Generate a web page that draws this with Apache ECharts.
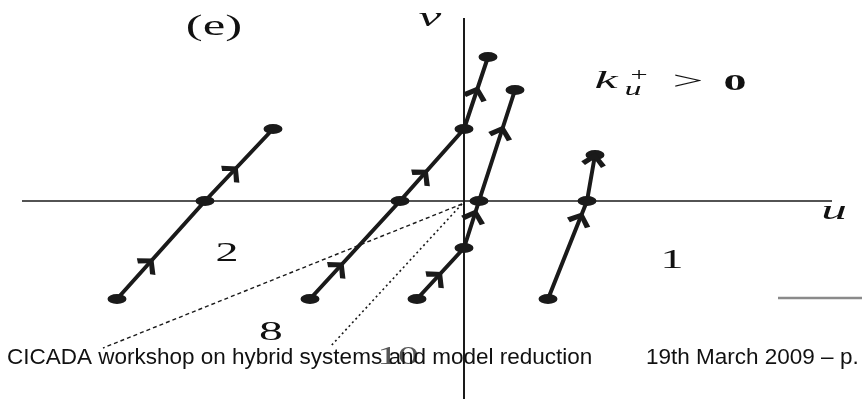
<!DOCTYPE html>
<html>
<head>
<meta charset="utf-8">
<script src="https://cdn.jsdelivr.net/npm/echarts@6/dist/echarts.min.js"></script>
<style>
html,body{margin:0;padding:0;background:#fff;}
#chart{width:862px;height:399px;}
</style>
</head>
<body>
<div id="chart"></div>
<script>
// trajectories (u, v), each point is a switching point
var traj1 = [[-34.7, -9.8], [-25.9, 0], [-19.1, 7.2]];
var traj2 = [[-15.4, -9.8], [-6.4, 0], [0, 7.2], [2.4, 14.4]];
var traj3 = [[-4.7, -9.8], [0, -4.7], [1.5, 0], [5.1, 11.1]];
var traj4 = [[8.4, -9.8], [12.3, 0], [13.1, 4.6]];
var trajs = [traj1, traj2, traj3, traj4];
// arrows : [trajectory, piece, fraction along piece]
var arrows = [[0, 0, 0.36], [0, 1, 0.41], [1, 0, 0.32], [1, 1, 0.36], [1, 2, 0.5],
	[2, 0, 0.43], [2, 1, 0.68], [2, 2, 0.62], [3, 0, 0.82], [3, 1, 0.9]];
// dotted rays from the origin
var ray8 = [[-0.2, -0.3], [-36.1, -14.7]];
var ray10 = [[-0.2, -0.3], [-13.4, -14.6]];
// u and v axes
var uAxis = [[-44.2, 0], [36.8, 0]];
var vAxis = [[0, 18.3], [0, -19.8]];
var slideRule = [[31.4, -9.7], [39.8, -9.7]];

var myChart = echarts.init(document.getElementById('chart'));
var ink = '#1a1a1a';

var arrowData = [];
for (var i = 0; i < arrows.length; i++) {
	var t = trajs[arrows[i][0]];
	var p = t[arrows[i][1]], q = t[arrows[i][1] + 1], f = arrows[i][2];
	var ang = Math.atan2(q[1] - p[1], q[0] - p[0]) * 180 / Math.PI;
	arrowData.push({value: [p[0] + (q[0] - p[0]) * f, p[1] + (q[1] - p[1]) * f], symbolRotate: ang - 90});
}

var series = [];
function plain(data, w, color, type) {
	series.push({type: 'line', data: data, showSymbol: false, silent: true, z: 1,
		lineStyle: {width: w, color: color, type: type || 'solid'}});
}
plain(uAxis, 1.5, ink);
plain(vAxis, 2, ink);
plain(ray8, 1.4, ink, [4, 3]);
plain(ray10, 1.6, ink, [2, 3]);
plain(slideRule, 2.5, '#8a8a8a');
for (var j = 0; j < trajs.length; j++) {
	series.push({type: 'line', data: trajs[j], symbol: 'circle', symbolSize: [19, 10], z: 3,
		itemStyle: {color: ink}, lineStyle: {width: 4, color: ink}});
}
series.push({type: 'scatter', data: arrowData, z: 4,
	symbol: 'path://M0,10 L10,0 L20,10 L16.5,13 L10,6 L3.5,13 Z', symbolSize: [25, 14],
	itemStyle: {color: ink, opacity: 1}});

// figure text is stretched sideways like the original slide
function txt(x, y, s, size, sx, weight, color) {
	return {type: 'text', x: x, y: y, z: 10, scaleX: sx, style: {text: s, fontSize: size,
		fontFamily: '"Liberation Serif", "DejaVu Serif", serif', fontWeight: weight || 'normal',
		fontStyle: 'normal', fill: color || '#111', align: 'center', verticalAlign: 'middle'}};
}
function itx(x, y, s, size, sx) {
	var e = txt(x, y, s, size, sx);
	e.style.fontStyle = 'italic';
	return e;
}
function foot(x, s) {
	return {type: 'text', x: x, y: 358, z: 11, style: {text: s, fontSize: 22.5,
		fontFamily: '"Liberation Sans", Arial, sans-serif', fill: '#111', align: 'left', verticalAlign: 'middle'}};
}

var option = {
	animation: false,
	grid: {left: 0, right: 0, top: 0, bottom: 0},
	xAxis: {type: 'value', min: -46.4, max: 39.8, show: false},
	yAxis: {type: 'value', min: -19.8, max: 20.1, show: false},
	series: series,
	graphic: [
		txt(214, 27, '(e)', 29, 1.75),
		itx(430, 19, 'v', 27, 1.9),
		itx(834, 212, 'u', 27, 1.9),
		itx(606, 81, 'k', 26, 2),
		txt(639, 76, '+', 19, 1.6),
		itx(633, 90, 'u', 19, 1.8),
		txt(688, 82, '>', 25, 2.2),
		txt(735, 84, '0', 23, 2, 'bold'),
		txt(227, 254, '2', 27, 1.7),
		txt(672, 261, '1', 27, 1.7),
		txt(271, 333, '8', 28, 1.7),
		txt(398, 357, '10', 26, 1.6, 'normal', '#555'),
		foot(7, 'CICADA workshop on hybrid systems and model reduction'),
		foot(646, '19th March 2009 \u2013 p.')
	]
};
myChart.setOption(option);
</script>
</body>
</html>
